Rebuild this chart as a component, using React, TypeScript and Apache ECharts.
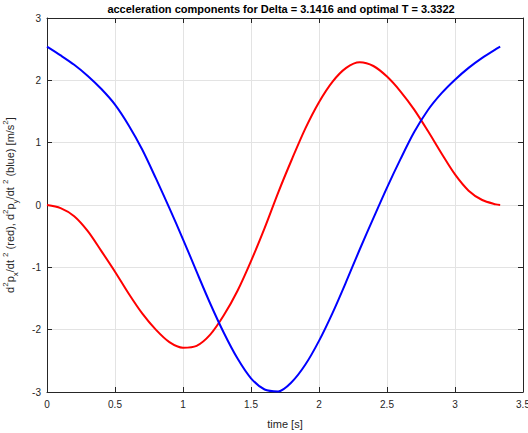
import React, { useEffect, useRef } from "react";
import * as echarts from "echarts";

// time samples [s]
const timeS = [
  0, 0.1, 0.2, 0.3, 0.4, 0.5, 0.6, 0.7, 0.8, 0.9, 1.0, 1.1, 1.2, 1.3, 1.4, 1.5, 1.6,
  1.7, 1.8, 1.9, 2.0, 2.1, 2.2, 2.3, 2.4, 2.5, 2.6, 2.7, 2.8, 2.9, 3.0, 3.1, 3.2, 3.3, 3.3322,
];
// d^2 p_x / dt^2 (red)
const accelX = [
  0, -0.05, -0.18, -0.42, -0.74, -1.07, -1.42, -1.74, -2.0, -2.2, -2.29, -2.26, -2.08, -1.77,
  -1.38, -0.9, -0.37, 0.2, 0.73, 1.23, 1.65, 1.98, 2.2, 2.29, 2.23, 2.06, 1.82, 1.53, 1.19,
  0.83, 0.49, 0.23, 0.08, 0.01, 0,
];
// d^2 p_y / dt^2 (blue)
const accelY = [
  2.54, 2.4, 2.25, 2.07, 1.86, 1.61, 1.28, 0.89, 0.43, -0.05, -0.55, -1.07, -1.58, -2.05, -2.46,
  -2.78, -2.96, -2.99, -2.84, -2.56, -2.18, -1.73, -1.23, -0.71, -0.21, 0.28, 0.74, 1.17,
  1.52, 1.79, 2.01, 2.2, 2.36, 2.5, 2.54,
];

const xRange = [0, 3.5];
const xStep = 0.5;
const yRange = [-3, 3];
const yStep = 1;

const titleText = "acceleration components for Delta = 3.1416 and optimal T = 3.3322";
const xName = "time [s]";

const FONT = "Liberation Sans, Arial, Helvetica, sans-serif";
const AX = "#262626";
const GRID = "#e3e3e3";

export default function App() {
  const ref = useRef<HTMLDivElement>(null);
  useEffect(() => {
    document.body.style.margin = "0";
    const chart = echarts.init(ref.current!, null, { renderer: "svg" });
    const redData = timeS.map((t, i) => [t, accelX[i]]);
    const blueData = timeS.map((t, i) => [t, accelY[i]]);
    const n = { fontSize: 11, lineHeight: 18, verticalAlign: "middle", color: AX, fontFamily: FONT };
    const sup = { fontSize: 8, lineHeight: 8, verticalAlign: "top", color: AX, fontFamily: FONT };
    const sub = { fontSize: 8, lineHeight: 8, verticalAlign: "bottom", color: AX, fontFamily: FONT };
    const yName =
      "{n|d}{sup|2}{n|p}{sub|x}{n|/dt }{sup|2}{n| (red), d}{sup|2}{n|p}{sub|y}{n|/dt }{sup|2}{n| (blue) [m/s}{sup|2}{n|]}";
    const baseX = {
      type: "value",
      min: xRange[0],
      max: xRange[1],
      interval: xStep,
      axisLine: { show: true, onZero: false, lineStyle: { color: AX, width: 1 } },
      axisTick: { show: true, inside: true, length: 5, lineStyle: { color: AX } },
    };
    const baseY = {
      type: "value",
      min: yRange[0],
      max: yRange[1],
      interval: yStep,
      axisLine: { show: true, onZero: false, lineStyle: { color: AX, width: 1 } },
      axisTick: { show: true, inside: true, length: 5, lineStyle: { color: AX } },
    };
    chart.setOption({
      animation: false,
      backgroundColor: "#ffffff",
      grid: {
        left: 47,
        right: 5,
        top: 18,
        bottom: 41,
        containLabel: false,
        outerBoundsMode: "none",
      },
      xAxis: [
        {
          ...baseX,
          position: "bottom",
          axisLabel: { color: AX, fontSize: 10, fontFamily: FONT, margin: 7 },
          splitLine: { show: true, lineStyle: { color: GRID, width: 1 } },
          name: xName,
          nameLocation: "middle",
          nameGap: 26,
          nameTextStyle: { color: AX, fontSize: 11, fontFamily: FONT },
        },
        {
          ...baseX,
          position: "top",
          axisLabel: { show: false },
          splitLine: { show: false },
        },
      ],
      yAxis: [
        {
          ...baseY,
          position: "left",
          axisLabel: { color: AX, fontSize: 10, fontFamily: FONT, margin: 6 },
          splitLine: { show: true, lineStyle: { color: GRID, width: 1 } },
          name: yName,
          nameLocation: "middle",
          nameRotate: 90,
          nameGap: 28,
          nameTextStyle: { rich: { n, sup, sub } },
        },
        {
          ...baseY,
          position: "right",
          axisLabel: { show: false },
          splitLine: { show: false },
        },
      ],
      graphic: [
        {
          type: "text",
          x: 281,
          y: 9,
          style: {
            text: titleText,
            textAlign: "center",
            textVerticalAlign: "middle",
            align: "center",
            verticalAlign: "middle",
            fontSize: 11,
            fontWeight: "bold",
            fontFamily: FONT,
            fill: "#000000",
          },
        },
      ],
      series: [
        {
          type: "line",
          data: redData,
          xAxisIndex: 0,
          yAxisIndex: 0,
          smooth: 0.3,
          showSymbol: false,
          lineStyle: { color: "#ff0000", width: 2 },
          itemStyle: { color: "#ff0000" },
        },
        {
          type: "line",
          data: blueData,
          xAxisIndex: 0,
          yAxisIndex: 0,
          smooth: 0.3,
          showSymbol: false,
          lineStyle: { color: "#0000ff", width: 2 },
          itemStyle: { color: "#0000ff" },
        },
      ],
    });
    return () => chart.dispose();
  }, []);
  return <div ref={ref} style={{ width: 528, height: 433 }} />;
}
